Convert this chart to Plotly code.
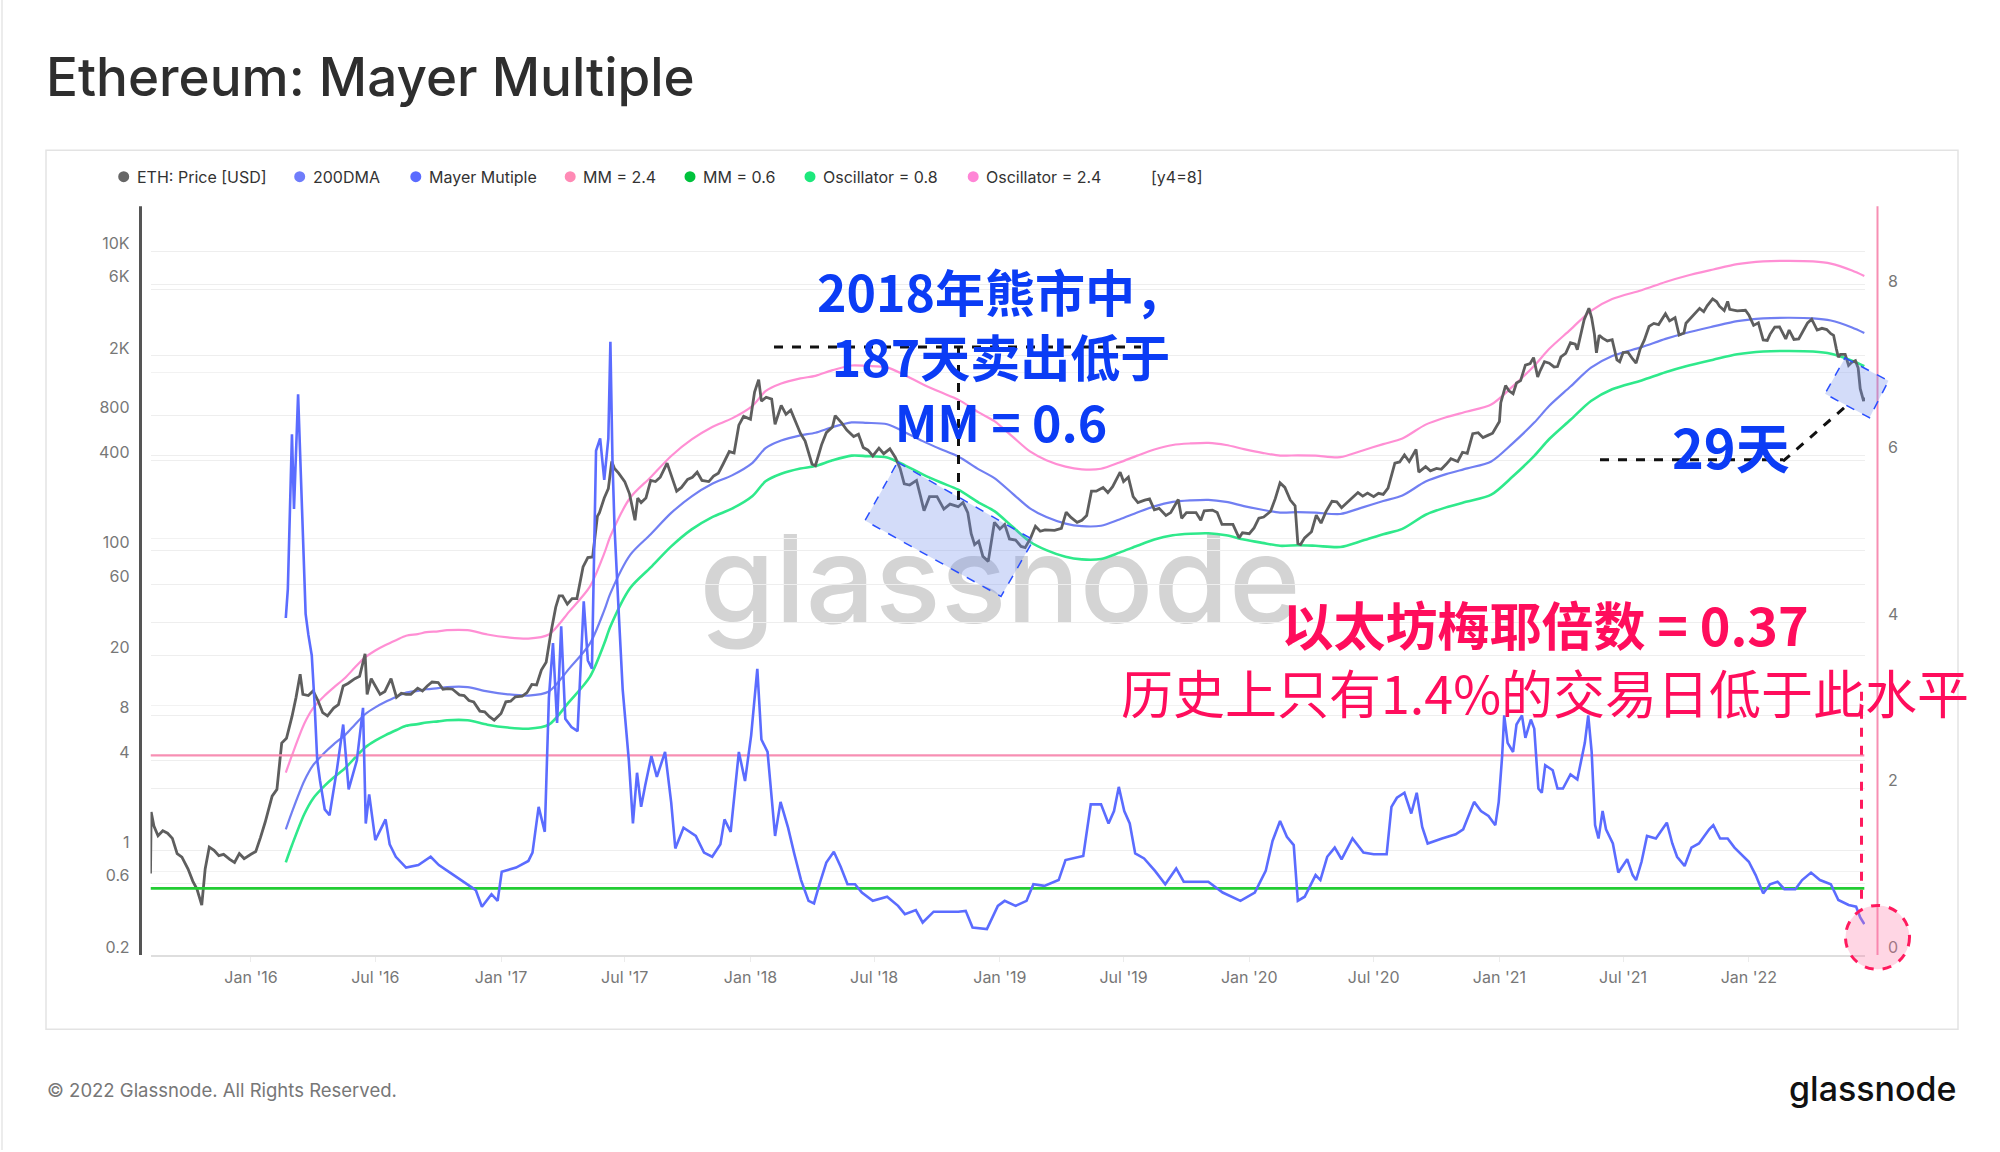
import plotly.graph_objects as go

W, H = 2000, 1152

# ---------------- data ----------------
price_dates = [
 "2015-08-07","2015-08-08","2015-08-12","2015-08-18","2015-08-25","2015-09-01","2015-09-08","2015-09-15","2015-09-22",
 "2015-10-01","2015-10-08","2015-10-14","2015-10-21","2015-10-26","2015-11-01","2015-11-08","2015-11-15","2015-11-22",
 "2015-12-01","2015-12-08","2015-12-15","2015-12-22","2016-01-01","2016-01-08","2016-01-15","2016-01-22","2016-02-01",
 "2016-02-08","2016-02-15","2016-02-22","2016-03-01","2016-03-07","2016-03-13","2016-03-17","2016-03-25","2016-04-01",
 "2016-04-08","2016-04-15","2016-04-22","2016-05-01","2016-05-08","2016-05-15","2016-05-22","2016-06-01","2016-06-08",
 "2016-06-16","2016-06-19","2016-06-25","2016-07-01","2016-07-08","2016-07-15","2016-07-24","2016-08-01","2016-08-08",
 "2016-08-15","2016-08-22","2016-09-01","2016-09-08","2016-09-15","2016-09-22","2016-10-01","2016-10-08","2016-10-15",
 "2016-10-22","2016-11-01","2016-11-08","2016-11-15","2016-11-22","2016-12-01","2016-12-08","2016-12-15","2016-12-22",
 "2017-01-01","2017-01-08","2017-01-15","2017-01-22","2017-02-01","2017-02-08","2017-02-15","2017-02-22","2017-03-01",
 "2017-03-08","2017-03-15","2017-03-22","2017-03-27","2017-04-01","2017-04-08","2017-04-15","2017-04-22","2017-05-01",
 "2017-05-08","2017-05-15","2017-05-22","2017-05-25","2017-06-01","2017-06-07","2017-06-12","2017-06-16","2017-06-22",
 "2017-07-01","2017-07-08","2017-07-16","2017-07-20","2017-07-25","2017-08-01","2017-08-08","2017-08-15","2017-08-22",
 "2017-09-01","2017-09-08","2017-09-15","2017-09-22","2017-10-01","2017-10-08","2017-10-15","2017-10-22","2017-11-01",
 "2017-11-08","2017-11-15","2017-11-22","2017-12-01","2017-12-08","2017-12-15","2017-12-22","2018-01-01","2018-01-07",
 "2018-01-13","2018-01-17","2018-01-24","2018-02-01","2018-02-06","2018-02-15","2018-02-22","2018-03-01","2018-03-08",
 "2018-03-15","2018-03-22","2018-04-01","2018-04-06","2018-04-15","2018-04-22","2018-05-01","2018-05-05","2018-05-15",
 "2018-05-22","2018-06-01","2018-06-08","2018-06-15","2018-06-22","2018-06-29","2018-07-08","2018-07-15","2018-07-24",
 "2018-08-01","2018-08-08","2018-08-14","2018-08-22","2018-09-01","2018-09-07","2018-09-12","2018-09-20","2018-10-01",
 "2018-10-11","2018-10-20","2018-11-01","2018-11-08","2018-11-15","2018-11-20","2018-11-25","2018-12-01","2018-12-07",
 "2018-12-15","2018-12-24","2019-01-01","2019-01-08","2019-01-15","2019-01-24","2019-02-01","2019-02-07","2019-02-15",
 "2019-02-22","2019-03-01","2019-03-08","2019-03-15","2019-03-22","2019-04-01","2019-04-08","2019-04-15","2019-04-24",
 "2019-05-01","2019-05-08","2019-05-15","2019-05-22","2019-06-01","2019-06-08","2019-06-15","2019-06-26","2019-07-01",
 "2019-07-08","2019-07-15","2019-07-22","2019-08-01","2019-08-08","2019-08-15","2019-08-22","2019-09-01","2019-09-08",
 "2019-09-19","2019-09-24","2019-10-01","2019-10-08","2019-10-15","2019-10-22","2019-10-27","2019-11-08","2019-11-15",
 "2019-11-22","2019-12-01","2019-12-08","2019-12-17","2019-12-22","2020-01-01","2020-01-08","2020-01-15","2020-01-22",
 "2020-02-01","2020-02-08","2020-02-15","2020-02-22","2020-03-01","2020-03-08","2020-03-12","2020-03-16","2020-03-22",
 "2020-04-01","2020-04-08","2020-04-15","2020-04-22","2020-05-01","2020-05-08","2020-05-15","2020-05-22","2020-06-01",
 "2020-06-08","2020-06-15","2020-06-22","2020-07-01","2020-07-08","2020-07-15","2020-07-22","2020-08-01","2020-08-08",
 "2020-08-15","2020-08-22","2020-09-01","2020-09-05","2020-09-15","2020-09-22","2020-10-01","2020-10-08","2020-10-15",
 "2020-10-22","2020-11-01","2020-11-08","2020-11-15","2020-11-23","2020-12-01","2020-12-08","2020-12-15","2020-12-22",
 "2021-01-01","2021-01-03","2021-01-10","2021-01-15","2021-01-21","2021-01-26","2021-02-01","2021-02-08","2021-02-15",
 "2021-02-20","2021-02-26","2021-03-01","2021-03-08","2021-03-15","2021-03-22","2021-03-27","2021-04-01","2021-04-08",
 "2021-04-15","2021-04-22","2021-04-25","2021-05-01","2021-05-05","2021-05-12","2021-05-16","2021-05-20","2021-05-23",
 "2021-05-27","2021-06-01","2021-06-08","2021-06-15","2021-06-22","2021-06-26","2021-07-01","2021-07-08","2021-07-15",
 "2021-07-20","2021-07-26","2021-08-01","2021-08-08","2021-08-15","2021-08-22","2021-09-01","2021-09-07","2021-09-15",
 "2021-09-21","2021-09-28","2021-10-01","2021-10-08","2021-10-15","2021-10-21","2021-10-27","2021-11-01","2021-11-09",
 "2021-11-15","2021-11-19","2021-11-26","2021-12-01","2021-12-04","2021-12-15","2021-12-21","2021-12-27","2022-01-01",
 "2022-01-08","2022-01-15","2022-01-22","2022-01-28","2022-02-01","2022-02-08","2022-02-15","2022-02-24","2022-03-01",
 "2022-03-08","2022-03-15","2022-03-22","2022-03-28","2022-04-03","2022-04-11","2022-04-18","2022-04-25","2022-05-01",
 "2022-05-05","2022-05-09","2022-05-12","2022-05-15","2022-05-22","2022-05-27","2022-06-01","2022-06-06","2022-06-10",
 "2022-06-13","2022-06-18","2022-06-19"]
price_usd = [
 0.70,1.80,1.45,1.25,1.35,1.30,1.20,0.95,0.90,
 0.75,0.62,0.55,0.43,0.75,1.05,1.00,0.92,0.94,
 0.87,0.83,0.95,0.88,0.94,0.98,1.22,1.55,2.30,
 2.55,5.2,5.6,7.8,10.5,15.0,11.0,10.8,11.6,
 10.0,8.3,7.9,8.9,9.4,12.5,13.0,14.0,14.5,
 20.5,11.0,14.0,12.5,11.0,11.5,14.0,10.5,11.2,
 11.0,11.0,12.1,11.6,12.5,13.3,13.2,11.9,12.0,
 11.9,10.9,10.8,10.0,9.8,8.5,8.4,7.8,7.4,
 8.2,9.8,9.9,10.6,10.7,11.3,12.8,12.7,16.0,
 18.0,28.5,42,50,50,44,48,48,78,
 90,91,170,180,225,260,395,355,330,
 290,240,160,225,210,225,295,290,310,
 385,305,250,265,300,310,335,295,290,
 315,330,380,460,450,690,790,755,1150,
 1390,1000,1060,1030,700,935,815,870,725,
 610,540,380,370,510,615,670,800,710,
 640,580,600,490,470,430,485,445,480,
 420,355,280,275,295,230,185,230,230,
 190,205,197,210,180,130,110,116,92,
 85,155,140,150,120,118,107,105,122,
 146,135,138,138,137,141,181,167,155,
 160,172,250,250,265,245,268,335,290,
 310,230,210,218,222,188,192,172,180,
 220,165,180,180,180,160,185,187,180,
 150,150,150,122,132,130,142,165,168,
 183,223,284,265,218,200,112,110,122,
 134,173,153,182,214,212,194,208,231,
 245,232,243,230,242,238,262,385,392,
 437,395,475,335,365,342,355,350,378,
 412,395,455,447,605,615,570,590,610,
 730,975,1270,1170,1120,1320,1370,1740,1780,
 1950,1450,1570,1830,1790,1690,1700,1970,2080,
 2450,2400,2200,2950,3500,4170,3600,2800,2100,
 2750,2630,2520,2570,1880,1830,2110,2120,1910,
 1790,2230,2550,3150,3300,3240,3830,3430,3600,
 2760,2850,3310,3580,3860,4160,3950,4320,4810,
 4600,4300,4020,4630,4100,4000,4000,4040,3760,
 3200,3330,2560,2540,2790,3120,3130,2600,2980,
 2580,2600,2970,3330,3520,2980,3060,3000,2820,
 2750,2240,1960,2050,2050,1730,1820,1860,1660,
 1210,1000,1060]

dma_dates = [
 "2016-02-21","2016-03-01","2016-03-19","2016-04-01","2016-04-18","2016-05-01","2016-05-18","2016-06-01","2016-06-16",
 "2016-07-01","2016-07-16","2016-08-01","2016-08-15","2016-09-01","2016-09-14","2016-10-01","2016-10-14","2016-11-13",
 "2016-12-12","2017-01-11","2017-02-10","2017-03-12","2017-04-11","2017-05-11","2017-06-01","2017-06-10","2017-07-09",
 "2017-08-08","2017-09-07","2017-10-07","2017-11-06","2017-12-05","2018-01-04","2018-01-23","2018-02-15","2018-03-15",
 "2018-04-06","2018-05-01","2018-05-29","2018-06-20","2018-07-20","2018-08-15","2018-09-10","2018-10-05","2018-11-01",
 "2018-12-01","2018-12-24","2019-01-20","2019-02-14","2019-03-10","2019-04-07","2019-05-01","2019-05-29","2019-06-25",
 "2019-07-21","2019-08-15","2019-09-11","2019-10-07","2019-11-02","2019-11-28","2019-12-24","2020-01-20","2020-02-15",
 "2020-03-12","2020-04-07","2020-05-13","2020-06-15","2020-07-15","2020-08-12","2020-09-15","2020-10-15","2020-11-15",
 "2020-12-20","2021-01-20","2021-02-21","2021-03-15","2021-04-15","2021-05-15","2021-06-15","2021-07-28","2021-09-01",
 "2021-10-01","2021-11-10","2021-12-15","2022-01-22","2022-03-01","2022-04-05","2022-05-01","2022-06-01","2022-06-19"]
dma_usd = [
 1.38,1.8,2.9,3.7,4.5,5.1,5.9,6.9,8.1,
 9.0,9.8,10.6,11.3,11.6,11.9,12.1,12.3,12.3,
 11.5,11.0,10.8,11.5,16.4,24,40,52,94,
 129,179,231,280,319,387,485,545,590,
 614,670,720,715,700,620,540,480,426,
 350,306,240,192,168,152,146,147,162,
 180,198,212,217,219,212,199,188,180,
 181,180,176,195,215,234,290,325,355,
 395,520,718,930,1250,1670,2000,2290,2600,
 2850,3150,3420,3570,3600,3570,3450,3100,2850]

# "MM = 2.4" band (upper, pink) and "MM = 0.6" band (lower, green), same dates as the 200DMA
band_24 = [
 3.3,4.3,7.0,8.9,10.8,12.2,14.2,16.6,19.4,
 21.6,23.5,25.4,27.1,27.8,28.6,29.0,29.5,29.5,
 27.6,26.4,25.9,27.6,39.4,57.6,96,125,226,
 310,430,554,672,766,929,1164,1308,1416,
 1474,1608,1728,1716,1680,1488,1296,1152,1022,
 840,734,576,461,403,365,350,353,389,
 432,475,509,521,526,509,478,451,432,
 434,432,422,468,516,562,696,780,852,
 948,1248,1723,2232,3000,4008,4800,5496,6240,
 6840,7560,8208,8568,8640,8568,8280,7440,6840]
band_06 = [
 0.83,1.08,1.74,2.22,2.70,3.06,3.54,4.14,4.86,
 5.40,5.88,6.36,6.78,6.96,7.14,7.26,7.38,7.38,
 6.90,6.60,6.48,6.90,9.84,14.4,24.0,31.2,56.4,
 77.4,107,139,168,191,232,291,327,354,
 368,402,432,429,420,372,324,288,256,
 210,184,144,115,101,91.2,87.6,88.2,97.2,
 108,119,127,130,131,127,119,113,108,
 109,108,106,117,129,140,174,195,213,
 237,312,431,558,750,1002,1200,1374,1560,
 1710,1890,2052,2142,2160,2142,2070,1860,1710]

mm_dates = [
 "2016-02-21","2016-02-24","2016-03-01","2016-03-04","2016-03-10","2016-03-14","2016-03-18","2016-03-21","2016-03-25",
 "2016-03-30","2016-04-03","2016-04-07","2016-04-11","2016-04-18","2016-04-25","2016-05-06","2016-05-15","2016-05-23",
 "2016-06-04","2016-06-13","2016-06-17","2016-06-22","2016-07-01","2016-07-16","2016-07-22","2016-07-31","2016-08-15",
 "2016-09-02","2016-09-20","2016-10-02","2016-10-20","2016-11-07","2016-11-25","2016-12-04","2016-12-18","2016-12-27",
 "2017-01-02","2017-01-23","2017-02-10","2017-02-16","2017-02-25","2017-03-06","2017-03-12","2017-03-18","2017-03-24",
 "2017-03-30","2017-04-05","2017-04-14","2017-04-23","2017-05-02","2017-05-08","2017-05-14","2017-05-20","2017-05-26",
 "2017-06-01","2017-06-07","2017-06-10","2017-06-13","2017-06-16","2017-06-22","2017-06-28","2017-07-07","2017-07-13",
 "2017-07-19","2017-07-25","2017-07-31","2017-08-09","2017-08-17","2017-08-29","2017-09-07","2017-09-13","2017-09-25",
 "2017-10-13","2017-10-25","2017-11-06","2017-11-18","2017-11-24","2017-12-03","2017-12-15","2017-12-24","2018-01-02",
 "2018-01-11","2018-01-17","2018-01-26","2018-02-06","2018-02-14","2018-02-25","2018-03-06","2018-03-16","2018-03-27",
 "2018-04-04","2018-04-12","2018-04-22","2018-05-03","2018-05-13","2018-05-23","2018-06-03","2018-06-13","2018-06-29",
 "2018-07-20","2018-08-05","2018-08-15","2018-08-31","2018-09-10","2018-09-26","2018-10-17","2018-11-01","2018-11-12",
 "2018-11-22","2018-12-13","2018-12-29","2019-01-08","2019-01-24","2019-02-09","2019-02-19","2019-03-07","2019-03-28",
 "2019-04-07","2019-04-18","2019-05-03","2019-05-14","2019-05-29","2019-06-09","2019-06-17","2019-06-24","2019-07-02",
 "2019-07-10","2019-07-18","2019-07-31","2019-08-16","2019-08-31","2019-09-16","2019-09-27","2019-10-12","2019-11-02",
 "2019-11-23","2019-12-19","2020-01-09","2020-01-25","2020-02-04","2020-02-15","2020-02-25","2020-03-06","2020-03-12",
 "2020-03-22","2020-04-07","2020-04-14","2020-04-24","2020-05-05","2020-05-15","2020-05-31","2020-06-16","2020-07-01",
 "2020-07-20","2020-07-27","2020-08-04","2020-08-15","2020-08-25","2020-09-02","2020-09-10","2020-09-18","2020-10-09",
 "2020-10-29","2020-11-09","2020-11-25","2020-12-05","2020-12-16","2020-12-26","2020-12-31","2021-01-05","2021-01-08",
 "2021-01-13","2021-01-21","2021-01-26","2021-02-03","2021-02-08","2021-02-16","2021-02-21","2021-02-27","2021-03-04",
 "2021-03-09","2021-03-20","2021-03-27","2021-04-04","2021-04-15","2021-04-25","2021-05-06","2021-05-11","2021-05-16",
 "2021-05-21","2021-05-26","2021-06-01","2021-06-06","2021-06-16","2021-06-24","2021-07-07","2021-07-15","2021-07-20",
 "2021-07-28","2021-08-05","2021-08-18","2021-09-03","2021-09-11","2021-09-18","2021-09-29","2021-10-09","2021-10-20",
 "2021-11-04","2021-11-10","2021-11-20","2021-12-01","2021-12-11","2021-12-21","2022-01-01","2022-01-11","2022-01-22",
 "2022-02-01","2022-02-12","2022-02-22","2022-03-10","2022-03-20","2022-04-02","2022-04-15","2022-05-01","2022-05-12",
 "2022-05-27","2022-06-07","2022-06-13","2022-06-19"]
mm_vals = [
 4.05,4.40,6.26,5.36,6.74,5.76,4.65,4.10,3.85,
 3.60,3.04,2.34,2.10,1.75,1.68,2.24,2.77,1.99,
 2.34,2.97,1.58,1.93,1.38,1.63,1.33,1.18,1.05,
 1.08,1.18,1.08,0.98,0.88,0.78,0.58,0.73,0.65,
 1.00,1.05,1.13,1.23,1.78,1.48,3.09,3.75,2.79,
 3.95,2.84,2.74,2.69,4.25,3.54,3.44,6.06,6.21,
 5.71,6.21,7.37,5.96,5.15,4.15,3.19,2.34,1.58,
 2.19,1.78,2.04,2.39,2.14,2.44,1.83,1.28,1.53,
 1.43,1.23,1.18,1.33,1.63,1.48,2.44,2.09,2.64,
 3.44,2.59,2.44,1.43,1.84,1.53,1.22,0.90,0.65,
 0.62,0.85,1.11,1.24,1.06,0.85,0.85,0.75,0.65,
 0.70,0.59,0.49,0.54,0.39,0.52,0.52,0.52,0.53,
 0.33,0.31,0.59,0.65,0.59,0.65,0.85,0.83,0.90,
 1.14,1.16,1.19,1.81,1.81,1.58,1.73,2.02,1.73,
 1.58,1.22,1.16,1.01,0.85,1.04,0.88,0.88,0.88,
 0.75,0.65,0.75,1.01,1.37,1.61,1.42,1.32,0.65,
 0.70,0.96,0.90,1.18,1.29,1.15,1.40,1.23,1.21,
 1.21,1.78,1.89,1.95,1.70,1.95,1.54,1.34,1.40,
 1.45,1.51,1.84,1.73,1.67,1.56,1.84,2.39,2.88,
 2.55,2.44,2.77,2.88,2.61,2.83,2.72,2.00,1.95,
 2.28,2.22,2.00,2.00,2.17,2.11,2.55,2.88,2.44,
 1.56,1.40,1.73,1.51,1.34,0.99,1.15,0.96,0.90,
 1.12,1.43,1.40,1.59,1.34,1.18,1.07,1.29,1.34,
 1.51,1.56,1.40,1.40,1.29,1.21,1.12,0.96,0.74,
 0.85,0.88,0.79,0.79,0.90,0.99,0.90,0.85,0.66,
 0.60,0.58,0.45,0.37]

osc_low, osc_high = 0.8, 2.4

left_tickvals = [0.2, 0.6, 1, 4, 8, 20, 60, 100, 400, 800, 2000, 6000, 10000]
left_ticktext = ["0.2", "0.6", "1", "4", "8", "20", "60", "100", "400", "800", "2K", "6K", "10K"]
right_tickvals = [0, 2, 4, 6, 8]
x_tickvals = ["2016-01-01", "2016-07-01", "2017-01-01", "2017-07-01", "2018-01-01", "2018-07-01", "2019-01-01",
              "2019-07-01", "2020-01-01", "2020-07-01", "2021-01-01", "2021-07-01", "2022-01-01"]
x_ticktext = ["Jan '16", "Jul '16", "Jan '17", "Jul '17", "Jan '18", "Jul '18", "Jan '19",
              "Jul '19", "Jan '20", "Jul '20", "Jan '21", "Jul '21", "Jan '22"]

legend_items = [("ETH: Price [USD]", "#666666"), ("200DMA", "#6f7dfb"), ("Mayer Mutiple", "#5a6bff"),
                ("MM = 2.4", "#ff8ab5"), ("MM = 0.6", "#00c23c"), ("Oscillator = 0.8", "#1de87c"),
                ("Oscillator = 2.4", "#ff85d6")]

# ---------------- colours ----------------
C_PRICE = "#5e5e5e"
C_DMA = "#717ff2"
C_MM = "#5b6cff"
C_BAND_HI = "#ff8fd4"
C_BAND_LO = "#2fe98b"
C_OSC_HI = "#f78fb3"
C_OSC_LO = "#22cc33"
C_BLUE_TXT = "#0b3cf5"
C_RED_TXT = "#ff0d5c"

# ---------------- geometry helpers (pixel -> paper) ----------------
def px(x):
    return x / W

def py(y):
    return 1 - y / H

PLOT_L, PLOT_R, PLOT_T, PLOT_B = 150.5, 1865.0, 206.6, 956.6

fig = go.Figure()

fig.add_trace(go.Scatter(x=dma_dates, y=band_24, name="MM = 2.4", mode="lines",
                         line=dict(color=C_BAND_HI, width=2.2, shape="spline", smoothing=0.8)))
fig.add_trace(go.Scatter(x=dma_dates, y=band_06, name="MM = 0.6", mode="lines",
                         line=dict(color=C_BAND_LO, width=2.6, shape="spline", smoothing=0.8)))
fig.add_trace(go.Scatter(x=dma_dates, y=dma_usd, name="200DMA", mode="lines",
                         line=dict(color=C_DMA, width=2.2, shape="spline", smoothing=0.8)))
fig.add_trace(go.Scatter(x=price_dates, y=price_usd, name="ETH: Price [USD]", mode="lines",
                         line=dict(color=C_PRICE, width=2.8)))

x_span = [price_dates[0], price_dates[-1]]
fig.add_trace(go.Scatter(x=x_span, y=[osc_high, osc_high], name="Oscillator = 2.4", mode="lines",
                         line=dict(color=C_OSC_HI, width=2.2), yaxis="y2"))
fig.add_trace(go.Scatter(x=x_span, y=[osc_low, osc_low], name="Oscillator = 0.8", mode="lines",
                         line=dict(color=C_OSC_LO, width=2.6), yaxis="y2"))
fig.add_trace(go.Scatter(x=mm_dates, y=mm_vals, name="Mayer Mutiple", mode="lines",
                         line=dict(color=C_MM, width=2.6), yaxis="y2"))

tickfont = dict(family="Inter", size=16, color="#777777")

fig.update_layout(
    width=W, height=H,
    margin=dict(l=0, r=0, t=0, b=0),
    paper_bgcolor="white", plot_bgcolor="white",
    showlegend=False,
    xaxis=dict(domain=[px(PLOT_L), px(PLOT_R)], type="date",
               range=["2015-08-07", "2022-06-20"],
               tickvals=x_tickvals, ticktext=x_ticktext, tickfont=tickfont,
               showgrid=False, zeroline=False,
               showline=True, linecolor="#dedede", linewidth=2,
               ticks="outside", ticklen=5, tickcolor="#ececec", ticklabelstandoff=2),
    yaxis=dict(domain=[py(PLOT_B), py(PLOT_T)], type="log",
               range=[-0.69897, 4.30103],
               tickvals=left_tickvals, ticktext=left_ticktext, tickfont=tickfont,
               showgrid=True, gridcolor="#eeeeee", gridwidth=1, zeroline=False,
               showline=False, ticks="", ticklabelstandoff=20, ticklabelshift=-8),
    yaxis2=dict(overlaying="y", side="right", range=[0, 9],
                tickvals=right_tickvals, tickfont=tickfont,
                showgrid=True, gridcolor="#eeeeee", gridwidth=1, zeroline=False,
                minor=dict(dtick=1, showgrid=True, gridcolor="#f2f2f2"),
                showline=False, ticks="", ticklabelstandoff=22, ticklabelshift=-8),
)

shapes = []
# chart frame and page edge
shapes.append(dict(type="rect", xref="paper", yref="paper", x0=px(46), x1=px(1958), y0=py(1031), y1=py(150.5),
                   line=dict(color="#e3e3e3", width=1.5), fillcolor="rgba(0,0,0,0)", layer="below"))
shapes.append(dict(type="line", xref="paper", yref="paper", x0=px(2), x1=px(2), y0=0, y1=1,
                   line=dict(color="#e6e6e6", width=1.5)))
# watermark
shapes.append(dict(type="rect", xref="paper", yref="paper", x0=px(650), x1=px(1350), y0=py(650), y1=py(500),
                   line=dict(width=0), fillcolor="rgba(0,0,0,0)", layer="between",
                   label=dict(text="glassnode", textposition="middle center",
                              font=dict(family="Inter", size=122, color="rgb(212,212,212)", weight=500))))
# left axis line and right axis line
shapes.append(dict(type="line", xref="paper", yref="paper", x0=px(140.5), x1=px(140.5), y0=py(PLOT_B), y1=py(PLOT_T),
                   line=dict(color="#555555", width=3)))
shapes.append(dict(type="line", xref="paper", yref="paper", x0=px(1877.5), x1=px(1877.5), y0=py(PLOT_B), y1=py(PLOT_T),
                   line=dict(color="#f78fb3", width=2)))

def poly(pts):
    return "M " + " L ".join(f"{px(x):.5f},{py(y):.5f}" for x, y in pts) + " Z"

# 2018 bear market box
shapes.append(dict(type="path", xref="paper", yref="paper",
                   path=poly([(897.5, 463), (1033.5, 541), (1001, 597.5), (865, 521.5)]),
                   fillcolor="rgba(110,140,235,0.30)", line=dict(color="#2a4fff", width=1.5, dash="dash"),
                   layer="above"))
# 2022 box
shapes.append(dict(type="path", xref="paper", yref="paper",
                   path=poly([(1845, 358.5), (1888.5, 381.5), (1869.5, 418.5), (1825, 394.5)]),
                   fillcolor="rgba(110,140,235,0.30)", line=dict(color="#2a4fff", width=1.5, dash="dash"),
                   layer="above"))
# black dashed guide lines
for (x0, y0, x1, y1) in [(774, 347.5, 1141, 347.5), (958.5, 347.5, 958.5, 501),
                         (1600, 460.5, 1783, 460.5), (1783, 462, 1847, 406)]:
    shapes.append(dict(type="line", xref="paper", yref="paper", x0=px(x0), x1=px(x1), y0=py(y0), y1=py(y1),
                       line=dict(color="#111111", width=3, dash="dash"), layer="above"))
# red dashed vertical + circle
shapes.append(dict(type="line", xref="paper", yref="paper", x0=px(1861.5), x1=px(1861.5), y0=py(693), y1=py(907),
                   line=dict(color="#ff1a5e", width=3, dash="dash"), layer="above"))
shapes.append(dict(type="circle", xref="paper", yref="paper", x0=px(1845.5), x1=px(1909.5), y0=py(971), y1=py(907),
                   fillcolor="rgba(255,120,165,0.30)", line=dict(color="#ff1a5e", width=3, dash="dash"),
                   layer="above"))

annotations = []
# title
annotations.append(dict(text="Ethereum: Mayer Multiple", xref="paper", yref="paper", x=px(44), y=py(77),
                        xanchor="left", yanchor="middle", showarrow=False,
                        font=dict(family="Inter", size=53, color="#2e2e2e", weight=500)))
# legend
legend_marker_x = [123.7, 299.7, 415.8, 570.2, 690.0, 810.0, 973.2]
for (label, col), mx in zip(legend_items, legend_marker_x):
    shapes.append(dict(type="circle", xref="paper", yref="paper", x0=px(mx - 5.5), x1=px(mx + 5.5),
                       y0=py(177 + 5.5), y1=py(177 - 5.5), fillcolor=col, line=dict(width=0)))
    annotations.append(dict(text=label, xref="paper", yref="paper", x=px(mx + 11), y=py(177.5),
                            xanchor="left", yanchor="middle", showarrow=False,
                            font=dict(family="Inter", size=16, color="#333333")))
annotations.append(dict(text="[y4=8]", xref="paper", yref="paper", x=px(1149), y=py(177.5),
                        xanchor="left", yanchor="middle", showarrow=False,
                        font=dict(family="Inter", size=16, color="#333333")))

cjk = "Noto Sans CJK SC"
# blue annotation block (three lines)
annotations.append(dict(text="2018年熊市中，<br>187天卖出低于<br>MM = 0.6",
                        xref="paper", yref="paper", x=px(1001), y=py(356),
                        xanchor="center", yanchor="middle", align="center", showarrow=False,
                        font=dict(family=cjk, size=50, color=C_BLUE_TXT, weight=700)))
annotations.append(dict(text="29天", xref="paper", yref="paper", x=px(1731), y=py(446),
                        xanchor="center", yanchor="middle", showarrow=False,
                        font=dict(family=cjk, size=54, color=C_BLUE_TXT, weight=700)))
# red annotation block (two lines)
annotations.append(dict(text="<b>以太坊梅耶倍数 = 0.37</b><br>历史上只有1.4%的交易日低于此水平",
                        xref="paper", yref="paper", x=px(1545), y=py(659),
                        xanchor="center", yanchor="middle", align="center", showarrow=False,
                        font=dict(family=cjk, size=52, color=C_RED_TXT, weight=400)))
# footer
annotations.append(dict(text="© 2022 Glassnode. All Rights Reserved.", xref="paper", yref="paper", x=px(45), y=py(1092),
                        xanchor="left", yanchor="middle", showarrow=False,
                        font=dict(family="Inter", size=18.5, color="#777777")))
annotations.append(dict(text="glassnode", xref="paper", yref="paper", x=px(1959), y=py(1090),
                        xanchor="right", yanchor="middle", showarrow=False,
                        font=dict(family="Inter", size=34, color="#111111", weight=500)))

fig.update_layout(shapes=shapes, annotations=annotations)

fig.write_html("out.html", config={"displayModeBar": False},
               post_script="document.body.style.margin='0px';document.body.style.overflow='hidden';")
